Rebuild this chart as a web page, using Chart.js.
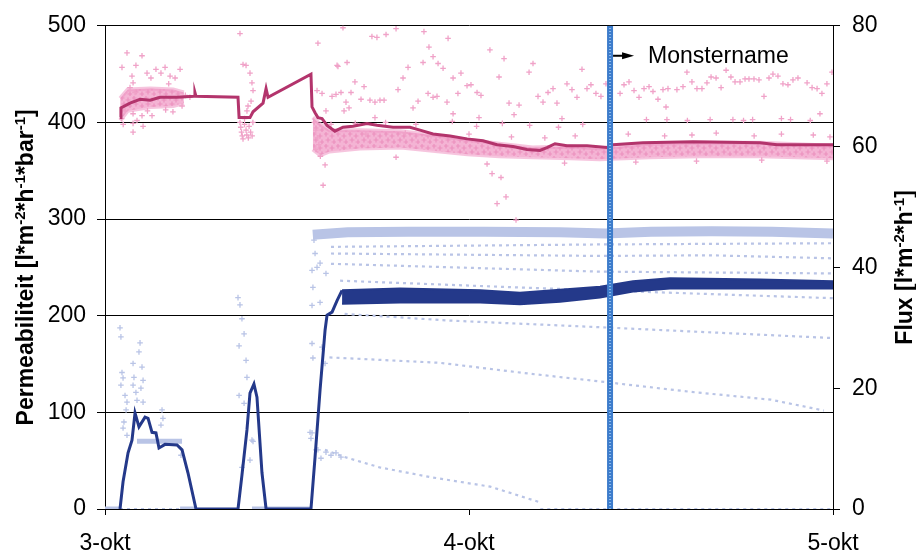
<!DOCTYPE html>
<html>
<head>
<meta charset="utf-8">
<script src="https://cdn.jsdelivr.net/npm/chart.js"></script>
<style>
  body { margin: 0; background: #fff; }
  #wrap { width: 916px; height: 551px; position: relative; }
</style>
</head>
<body>
<div id="wrap"><canvas id="chart"></canvas></div>
<script>
// x values are hours after 3-okt 00:00
const dayLabels = ['3-okt', '4-okt', '5-okt'];
const monsterX = 33.3;

// permeabiliteit, smoothed line (left axis)
const permLine = [[0.99,405],[1.05,415],[1.65,420],[2.31,424],[2.97,423],[3.63,426],[4.75,426],[5.87,427],[5.93,431],[6.0,427],
  [8.77,426],[8.84,405],[9.36,405],[9.56,405],[9.76,411],[10.42,420],[10.62,435],[10.75,426],[13.58,450],[13.65,416],
  [13.85,410],[14.04,405],[14.31,404],[14.64,397],[15.16,391],[15.69,395],[16.35,396],[17.27,399],[17.93,397],[18.99,395],
  [20.11,395],[20.77,392],[21.63,388],[22.75,386],[23.87,383],[24.92,381],[25.85,377],[26.9,375],[27.82,372],[28.68,371],
  [29.14,374],[29.67,378],[30.46,376],[31.78,376],[33.1,374],[33.49,377],[35.47,379],[38.77,380],[43.19,379],[44.31,377],[48,377]];

// dense cloud of permeability readings: upper and lower edge
const permBandHi = [[13.7,405],[14.2,398],[14.8,392],[16.8,392],[19.5,391],[22.1,386],[23.9,382],[26.0,378],[28.2,374],[30.7,375],[32.6,373],[35.9,378],[39.2,379],[43.2,379],[48,376]];
const permBandLo = [[13.7,372],[14.2,366],[14.8,370],[16.8,373],[19.5,374],[22.1,370],[23.9,367],[26.0,365],[28.2,364],[30.7,363],[32.6,362],[35.9,364],[39.2,365],[43.2,365],[48,363]];
const permEarlyHi = [[1.0,425],[1.5,434],[3.0,435],[4.5,434],[5.2,431]];
const permEarlyLo = [[1.0,402],[1.5,412],[3.0,416],[4.5,417],[5.2,420]];

// scattered permeability readings
const permDots = [
  [1.45,472],[2.44,469],[1.12,457],[2.04,459],[2.77,451],[3.36,455],[3.69,451],[3.96,457],[4.29,448],[4.62,446],[4.95,455],
  [3.03,446],[1.78,448],[1.85,441],[1.65,436],[1.98,431],[1.32,412],[1.85,409],[2.44,407],[2.11,402],[2.51,396],[1.85,399],
  [1.85,390],[3.10,407],[5.08,417],[4.48,411],[1.1,404],[1.2,398],[2.8,412],[4.0,413],[5.3,428],[5.6,426],[4.2,440],
  [8.90,492],[9.10,460],[9.30,459],[9.56,451],[9.69,441],[9.76,433],[9.63,422],[9.43,417],[9.36,412],
  [8.9,400],[8.95,395],[9.0,390],[9.05,386],[9.1,383],[9.2,398],[9.3,392],[9.35,387],[9.45,384],[9.5,396],[9.6,390],[9.7,386],[9.75,400],[9.2,404],
  [14.04,482],[15.30,459],[15.96,462],[15.69,498],[14.31,430],[13.98,433],[14.57,412],[14.97,427],[15.23,429],[15.36,458],
  [13.8,400],[13.9,392],[14.0,384],[14.1,377],[13.9,372],[14.2,365],[14.51,356],[14.38,335],
  [17.60,489],[17.93,488],[18.53,491],[19.19,497],[21.03,494],[21.36,478],[22.62,487],[21.63,468],[21.96,461],[22.29,456],
  [20.97,462],[19.98,457],[19.65,446],[19.32,434],[20.31,415],[20.64,422],[21.30,430],[21.63,426],[21.89,427],[22.55,421],
  [22.95,446],[23.47,451],[23.27,430],[23.87,438],[24.13,439],[24.53,431],[24.79,428],[22.95,409],[24.66,405],[25.38,475],
  [26.31,466],[25.98,447],[26.64,420],[27.30,418],[26.97,408],[27.96,452],[28.22,461],[28.55,427],[28.88,421],[29.21,431],
  [29.54,435],[29.80,420],[30.13,404],[30.46,440],[30.79,434],[31.12,426],[31.45,455],[31.78,435],[32.04,439],[32.37,430],
  [32.70,427],[33.03,440],[16.48,442],[17.08,437],[16.22,431],[15.56,431],[15.89,421],[16.88,424],[17.47,423],[17.80,421],
  [18.13,423],[18.40,423],[16.09,415],[15.76,412],[17.80,405],
  [19.19,364],[25.19,357],[25.52,347],[26.11,343],[26.44,323],[25.85,316],[27.10,299],
  [33.96,430],[34.22,439],[34.55,442],[34.88,433],[35.21,426],[35.54,435],[35.87,437],[36.13,432],[36.46,424],[36.79,434],
  [37.12,435],[36.99,416],[37.71,434],[38.11,437],[38.37,452],[38.70,442],[39.03,435],[39.36,435],[39.69,441],[39.96,447],
  [40.29,446],[40.62,436],[40.95,454],[41.27,447],[41.54,442],[41.87,442],[42.20,445],[42.46,445],[42.79,445],[43.12,444],
  [43.45,427],[43.78,446],[44.04,450],[44.37,448],[44.70,440],[45.03,439],[45.36,444],[45.69,446],[46.29,441],[46.62,436],
  [46.95,435],[47.27,430],[47.60,440],[47.93,452],[47.14,409],
  [35.7,403],[37.05,403],[38.4,402],[39.9,403],[41.4,403],[42.1,402],[42.7,403],[44.6,404],[45.2,403],[46.5,402],
  [14.9,398],[16.5,399],[18.5,400],[20.5,398],[22.9,401],[24.5,396],[26.2,399],[28.0,397],[29.9,395],[31.5,398],
  [34.5,388],[36.9,386],[38.7,387],[40.3,389],[42.8,386],[44.6,388],[46.7,387],[47.8,385],
  [17.2,388],[19.8,389],[21.5,386],[24.0,388],[26.8,385],[29.0,384],[31.0,386],
  [30.3,358],[35.0,359],[39.0,360],[43.3,361],[47.6,360]];

// flux, smoothed line (right axis)
const fluxLine = [[0.99,0],[1.19,4.5],[1.52,9.3],[1.78,11.4],[1.98,15.9],[2.24,13.6],[2.64,15.2],[2.84,15.0],[3.10,12.7],
  [3.36,12.6],[3.56,10.1],[3.96,10.7],[4.75,10.6],[5.08,9.8],[5.47,6.0],[6.00,0],[8.77,0],[9.03,5.6],[9.36,13.1],[9.56,19.2],
  [9.82,20.7],[10.02,18.5],[10.35,6.0],[10.62,0],[13.58,0],[13.85,8.6],[14.18,19.7],[14.51,29.6],[14.64,32.1],[14.97,32.6],
  [15.30,34.5],[15.63,36.2]];
const fluxBandHi = [[15.63,36.2],[19.45,36.5],[24.73,36.2],[27.36,35.8],[30.0,36.3],[32.64,36.8],[34.81,37.7],[37.25,38.2],[43.19,38.0],[48,37.7]];
const fluxBandLo = [[15.63,34.0],[19.45,34.2],[24.73,34.2],[27.36,33.9],[30.0,34.3],[32.64,35.0],[34.81,36.0],[37.25,36.5],[43.19,36.5],[48,36.5]];

// raw flux readings: main cloud, rows and scattered points
const fluxCloud = [[13.7,45.4],[16,45.8],[20,45.9],[25,45.9],[30,45.8],[33,45.6],[36,45.9],[40,46.0],[44,45.9],[48,45.6]];
const fluxEarlyCloud = [[2.11,11.2],[5.08,11.2]];
const fluxRows = [
  [[14.9,43.4],[32.6,43.8],[48,44.0]],
  [[14.9,42.3],[32.6,41.9],[40,42.0],[48,41.5]],
  [[14.9,40.6],[32.6,39.3],[48,39.0]],
  [[15.5,37.8],[26.0,36.8],[32.6,36.2],[48,34.9]],
  [[15.8,32.3],[22.7,31.2],[32.6,30.1],[48,28.3]],
  [[14.8,25.1],[22.1,24.2],[28.0,22.4],[32.0,21.3],[38.6,19.4],[43.9,18.1],[47.4,16.3]],
  [[14.5,9.8],[15.8,8.6],[18.1,6.9],[21.4,5.3],[25.4,3.7],[28.7,1.1]],
  [[0.99,0],[4.95,0],[5.0,null],[28.7,0],[48,0]]
];
const fluxZero = [[0,0],[0.99,0],[1.0,null],[4.95,0],[6.0,0],[6.1,null],[9.69,0],[13.6,0]];
const fluxDots = [
  [1.12,22.6],[1.19,21.7],[1.05,20.5],[1.32,18.8],[1.45,17.7],[1.39,16.4],[1.25,14.4],[1.19,13.4],[1.45,12.2],[1.85,24.1],
  [1.91,21.8],[1.85,20.5],[2.04,19.3],[2.11,18.0],[2.44,23.5],[2.51,21.3],[2.37,20.0],[2.51,17.7],[3.76,16.4],[3.82,15.0],
  [3.69,13.9],[5.01,8.9],[0.99,30.0],[1.05,28.5],[2.31,27.5],[2.24,26.0],
  [8.84,18.8],[9.03,6.9],[9.17,17.5],[9.36,21.8],[9.30,24.6],[9.56,8.1],[9.69,11.4],[9.76,11.2],[8.77,35.0],[8.90,33.8],
  [9.03,31.5],[9.17,29.0],[8.84,27.0],
  [13.52,12.7],[13.58,11.7],[13.91,9.8],[14.24,8.4],[14.57,9.4],[14.90,8.9],[15.23,9.3],[15.56,8.6],[13.65,39.5],[13.71,36.7],
  [13.65,33.7],[13.65,27.4],[13.71,25.0],[13.65,12.6],[13.85,42.3],[13.98,40.0],[14.18,40.7],[14.18,34.2],[14.31,26.8],
  [14.57,39.0],[14.51,24.1],[14.04,9.8],[13.78,44.5]];

const pink = '#b3346c', pinkLight = '#f0a2c8', blue = '#24398a', blueLight = '#b9c4e6';
const font = "'Liberation Sans', Arial, sans-serif";

// texture so the dense clouds look like many small crosses
function crossPattern(bg, fg) {
  const c = document.createElement('canvas');
  c.width = 12; c.height = 12;
  const g = c.getContext('2d');
  g.fillStyle = bg;
  g.fillRect(0, 0, 12, 12);
  g.strokeStyle = fg;
  g.lineWidth = 1.2;
  [[2, 2], [8, 4], [4, 8], [10, 10]].forEach(p => {
    g.beginPath();
    g.moveTo(p[0] - 2.5, p[1]); g.lineTo(p[0] + 2.5, p[1]);
    g.moveTo(p[0], p[1] - 2.5); g.lineTo(p[0], p[1] + 2.5);
    g.stroke();
  });
  return g.createPattern(c, 'repeat');
}
const pinkFill = crossPattern('#f4b4d4', '#ec92be');

const xy = arr => arr.map(p => ({x: p[0], y: p[1]}));
function lineSet(data, axis, color, width, order, extra) {
  return Object.assign({type: 'line', data: xy(data), yAxisID: axis, borderColor: color, borderWidth: width,
    pointRadius: 0, tension: 0, fill: false, order: order, spanGaps: false}, extra || {});
}
function dotSet(data, axis, color, order) {
  return {type: 'line', data: xy(data), yAxisID: axis, showLine: false, pointStyle: 'cross', pointRadius: 2.8,
    pointBorderWidth: 1.3, pointBorderColor: color, pointBackgroundColor: color, order: order};
}

const datasets = [
  lineSet(fluxZero, 'y2', blueLight, 5, 9),
  lineSet(fluxEarlyCloud, 'y2', blueLight, 5, 9),
  lineSet(fluxCloud, 'y2', blueLight, 10, 9),
  dotSet(fluxDots, 'y2', blueLight, 9),
  ...fluxRows.map(r => lineSet(r, 'y2', blueLight, 2.2, 9, {borderDash: [3, 4]})),
  lineSet(permBandHi, 'y', 'rgba(238,150,194,0.55)', 4, 7, {fill: '+1', backgroundColor: pinkFill}),
  lineSet(permBandLo, 'y', 'rgba(238,150,194,0.55)', 4, 7),
  lineSet(permEarlyHi, 'y', 'rgba(238,150,194,0.55)', 4, 7, {fill: '+1', backgroundColor: pinkFill}),
  lineSet(permEarlyLo, 'y', 'rgba(238,150,194,0.55)', 4, 7),
  dotSet(permDots, 'y', pinkLight, 6),
  lineSet(fluxBandHi, 'y2', blue, 2, 4, {fill: '+1', backgroundColor: blue}),
  lineSet(fluxBandLo, 'y2', blue, 2, 4),
  lineSet(fluxLine, 'y2', blue, 3, 3),
  lineSet(permLine, 'y', pink, 3, 2),
  lineSet([[monsterX, 0], [monsterX, 500]], 'y', '#3d7ccb', 6, 1),
  lineSet([[monsterX, 0], [monsterX, 500]], 'y', '#8fbcec', 2, 0, {borderDash: [1, 2]})
];

function drawTitle(ctx, parts, bx, cy) {
  ctx.save();
  ctx.translate(bx, cy);
  ctx.rotate(-Math.PI / 2);
  ctx.fillStyle = '#000';
  ctx.textBaseline = 'alphabetic';
  ctx.textAlign = 'left';
  let w = 0;
  parts.forEach(p => { ctx.font = p[1] ? 'bold 15px ' + font : 'bold 23px ' + font; w += ctx.measureText(p[0]).width; });
  let x = -w / 2;
  parts.forEach(p => {
    ctx.font = p[1] ? 'bold 15px ' + font : 'bold 23px ' + font;
    ctx.fillText(p[0], x, p[1] ? -8 : 0);
    x += ctx.measureText(p[0]).width;
  });
  ctx.restore();
}

const extras = {
  id: 'extras',
  afterDraw(chart) {
    const {ctx, chartArea, scales} = chart;
    const cy = (chartArea.top + chartArea.bottom) / 2;
    drawTitle(ctx, [['Permeabiliteit [l*m'], ['-2', 1], ['*h'], ['-1', 1], ['*bar'], ['-1', 1], [']']], 33, cy);
    drawTitle(ctx, [['Flux [l*m'], ['-2', 1], ['*h'], ['-1', 1], [']']], 912, cy);
    // Monstername label with arrow
    const bx = scales.x.getPixelForValue(monsterX) + 3;
    const ay = scales.y.getPixelForValue(469);
    ctx.save();
    ctx.strokeStyle = '#000';
    ctx.fillStyle = '#000';
    ctx.lineWidth = 2;
    ctx.beginPath(); ctx.moveTo(bx, ay); ctx.lineTo(bx + 11, ay); ctx.stroke();
    ctx.beginPath(); ctx.moveTo(bx + 9, ay - 3.5); ctx.lineTo(bx + 21, ay); ctx.lineTo(bx + 9, ay + 3.5); ctx.closePath(); ctx.fill();
    ctx.font = '23px ' + font;
    ctx.textBaseline = 'alphabetic';
    ctx.fillText('Monstername', bx + 35, ay + 7);
    ctx.restore();
  }
};

const tickFont = {family: font, size: 23};
new Chart(document.getElementById('chart'), {
  type: 'line',
  data: {datasets: datasets},
  options: {
    responsive: true,
    maintainAspectRatio: false,
    animation: false,
    layout: {padding: {top: 25, left: 0, right: 0, bottom: 0}},
    plugins: {legend: {display: false}, tooltip: {enabled: false}},
    scales: {
      x: {
        type: 'linear', min: 0, max: 48,
        afterFit: s => { s.height = 42; },
        ticks: {stepSize: 24, callback: v => dayLabels[v / 24], font: tickFont, color: '#000', padding: 15, maxRotation: 0, autoSkip: false},
        grid: {drawOnChartArea: false, tickLength: 6, color: '#000'},
        border: {color: '#000'}
      },
      y: {
        position: 'left', min: 0, max: 500,
        afterFit: s => { s.width = 105; },
        ticks: {stepSize: 100, font: tickFont, color: '#000', padding: 11},
        grid: {color: '#000', tickLength: 8},
        border: {color: '#000'}
      },
      y2: {
        position: 'right', min: 0, max: 80,
        afterFit: s => { s.width = 83; },
        ticks: {stepSize: 20, font: tickFont, color: '#000', padding: 12},
        grid: {drawOnChartArea: false, color: '#000', tickLength: 7},
        border: {color: '#000'}
      }
    }
  },
  plugins: [extras]
});
</script>
</body>
</html>
